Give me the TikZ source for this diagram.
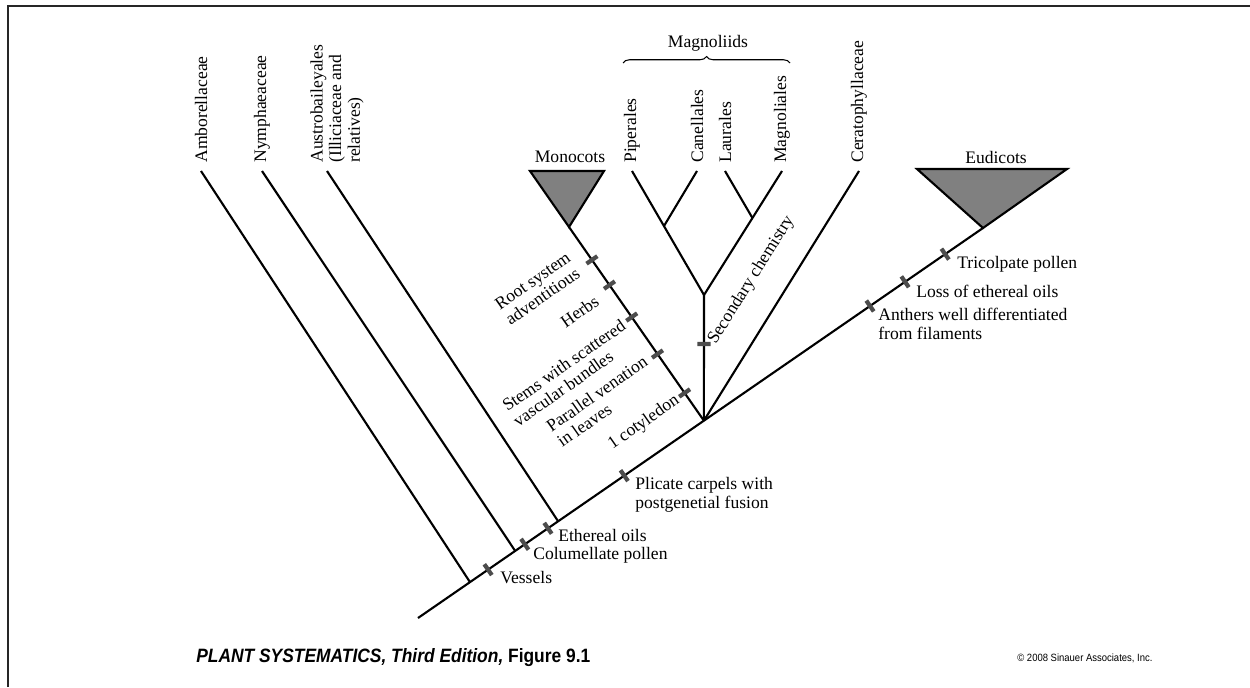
\documentclass[tikz,border=0pt]{standalone}
\usepackage{fontspec}
\setmainfont{Liberation Serif}
\newfontfamily\captionfont{Liberation Sans}[FakeStretch=0.9]
\usetikzlibrary{decorations.pathreplacing}

\begin{document}
\begin{tikzpicture}[x=0.02cm,y=-0.02cm,
    every node/.style={font=\fontsize{10}{10.6}\selectfont,inner sep=0pt},
    branch/.style={line width=1.2pt},
    clade/.style={line width=1.2pt,fill=gray},
    taxon/.style={rotate=90,anchor=west,align=left,inner xsep=0.16cm},
    synapo/.style={sloped,fill=black!70,minimum width=2.4pt,minimum height=7.5pt},
    trait/.style={anchor=north west,align=left},
    monotrait/.style={rotate=35,anchor=east,align=left}]
\useasboundingbox (0,0) rectangle (1250,687);

% frame
\draw[black!85,line width=1.5pt] (8,687) -- (8,6) -- (1250,6);

% backbone
\coordinate (root) at (418,618);
\coordinate (eud) at (983,228);
\draw[branch] (root) -- (eud);
\path (root) -- (eud)
    coordinate[pos=0.092] (ambbase)
    coordinate[pos=0.172] (nymbase)
    coordinate[pos=0.248] (ausbase)
    coordinate[pos=0.506] (core);

% taxa along the top
\node[taxon] (amborella) at (201,171) {Amborellaceae};
\node[taxon] (nymphaea) at (262,171) {Nymphaeaceae};
\node[taxon] (austro) at (337,171) {Austrobaileyales\\(Illiciaceae and\\relatives)};
\coordinate (austrotip) at (327,171);
\node[taxon] (piper) at (632,171) {Piperales};
\node[taxon] (canella) at (697,171) {Canellales};
\node[taxon] (laurus) at (725,171) {Laurales};
\node[taxon] (magnolia) at (782,171) {Magnoliales};
\node[taxon] (cerato) at (859,171) {Ceratophyllaceae};

\draw[branch] (amborella.west) -- (ambbase);
\draw[branch] (nymphaea.west) -- (nymbase);
\draw[branch] (austrotip) -- (ausbase);

% magnoliids
\coordinate (magno) at (704,295);
\draw[branch] (piper.west) -- (magno) -- (magnolia.west);
\path (piper.west) -- (magno) coordinate[pos=0.444] (pipcan);
\path (magnolia.west) -- (magno) coordinate[pos=0.379] (laumag);
\draw[branch] (canella.west) -- (pipcan);
\draw[branch] (laurus.west) -- (laumag);
\draw[branch] (magno) -- (core);
\draw[branch] (cerato.west) -- (core);

\draw[line width=0.6pt,decorate,decoration={brace,amplitude=0.13cm}] (623,63) -- (790,63);
\node (magnoliids) at (708,43) {Magnoliids};

% monocots and eudicots
\coordinate (monotip) at (569,227);
\draw[branch] (core) -- (monotip);
\draw[clade] (530,171) -- (604,171) -- (monotip) -- cycle;
\node (monocots) at (570,157) {Monocots};
\draw[clade] (917,169) -- (1067,169) -- (eud) -- cycle;
\node (eudicots) at (996,157) {Eudicots};

% characters on the backbone
\path (root) -- (eud)
    node[synapo,pos=0.124] (vessels) {}
    node[synapo,pos=0.189] (columella) {}
    node[synapo,pos=0.230] (ethereal) {}
    node[synapo,pos=0.365] (plicate) {}
    node[synapo,pos=0.800] (anthers) {}
    node[synapo,pos=0.862] (lossoils) {}
    node[synapo,pos=0.933] (tricolpate) {};
\node[trait] at (500,571) {Vessels};
\node[trait] at (533,547) {Columellate pollen};
\node[trait] at (558,529) {Ethereal oils};
\node[trait] at (635,477) {Plicate carpels with\\postgenetial fusion};
\node[trait] at (878,308) {Anthers well differentiated\\from filaments};
\node[trait] at (916,285) {Loss of ethereal oils};
\node[trait] at (957,256) {Tricolpate pollen};

% characters on the monocot stem
\path (core) -- (monotip)
    node[synapo,pos=0.143] (cotyledon) {}
    node[synapo,pos=0.344] (venation) {}
    node[synapo,pos=0.535] (bundles) {}
    node[synapo,pos=0.700] (herbs) {}
    node[synapo,pos=0.830] (rootsys) {};
\node[monotrait] at (574,263) {Root system\\adventitious};
\node[monotrait] at (597,299) {Herbs};
\node[monotrait] at (629,331) {Stems with scattered\\vascular bundles};
\node[monotrait] at (651,367) {Parallel venation\\in leaves};
\node[monotrait] at (678,399) {1 cotyledon};

\path (magno) -- (core) node[synapo,pos=0.39] (secchem) {};
\node[rotate=58,anchor=west] at (712,343) {Secondary chemistry};

% caption line
\node[anchor=base west,font=\captionfont\bfseries\fontsize{11}{12}\selectfont] at (196,662)
    {\textit{PLANT SYSTEMATICS, Third Edition,} Figure 9.1};
\node[anchor=base west,font=\captionfont\fontsize{6}{7}\selectfont] at (1017,661)
    {\textcopyright{} 2008 Sinauer Associates, Inc.};
\end{tikzpicture}
\end{document}
